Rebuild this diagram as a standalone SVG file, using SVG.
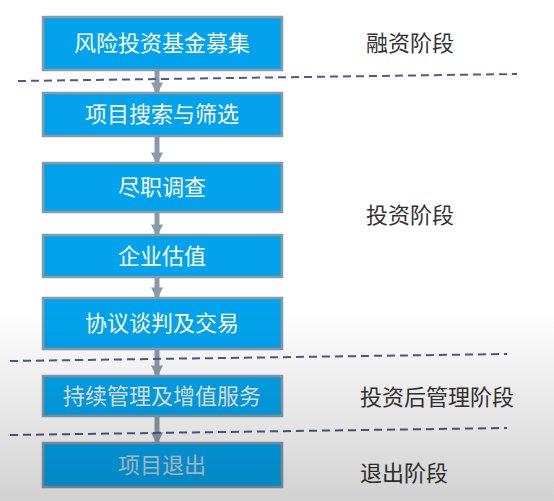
<svg xmlns="http://www.w3.org/2000/svg" width="554" height="501" viewBox="0 0 554 501">
<style>
.box{fill:#02a3ec;stroke:#8b9ba6;stroke-width:2.5}
.bt{font-family:"Noto Sans CJK SC","Noto Sans",sans-serif;font-size:22px;fill:#ffffff;text-anchor:middle}
.lab{font-family:"Noto Sans CJK SC","Noto Sans",sans-serif;font-size:22px;fill:#333333}
.con{stroke:#8b9ba6;stroke-width:5;fill:none}
.dash{stroke:#55568c;stroke-width:2;stroke-dasharray:8 5;fill:none}
</style>
<defs>
<marker id="ah" viewBox="0 0 10 10" refX="8" refY="5" markerWidth="2.4" markerHeight="2.4" orient="auto" markerUnits="strokeWidth">
<path d="M0,0 L10,5 L0,10 z" fill="#8b9ba6"/>
</marker>
<linearGradient id="shade" x1="0" y1="0" x2="0" y2="1">
<stop offset="0" stop-color="#000" stop-opacity="0"/>
<stop offset="0.62" stop-color="#000" stop-opacity="0"/>
<stop offset="0.75" stop-color="#000" stop-opacity="0.06"/>
<stop offset="1" stop-color="#000" stop-opacity="0.18"/>
</linearGradient>
</defs>
<rect width="554" height="501" fill="#ffffff"/>
<g id="connectors">
<line class="con" x1="157" y1="70" x2="157" y2="92" marker-end="url(#ah)"/>
<line class="con" x1="157" y1="136" x2="157" y2="162" marker-end="url(#ah)"/>
<line class="con" x1="157" y1="212" x2="157" y2="234" marker-end="url(#ah)"/>
<line class="con" x1="157" y1="277" x2="157" y2="297" marker-end="url(#ah)"/>
<line class="con" x1="157" y1="349" x2="157" y2="375" marker-end="url(#ah)"/>
<line class="con" x1="157" y1="416" x2="157" y2="442" marker-end="url(#ah)"/>
</g>
<g id="n1"><rect class="box" x="43" y="17" width="239" height="53"/><text class="bt" x="162" y="51">风险投资基金募集</text></g>
<g id="n2"><rect class="box" x="43" y="93" width="239" height="43"/><text class="bt" x="162" y="122">项目搜索与筛选</text></g>
<g id="n3"><rect class="box" x="43" y="163" width="239" height="49"/><text class="bt" x="162" y="195">尽职调查</text></g>
<g id="n4"><rect class="box" x="43" y="235" width="239" height="42"/><text class="bt" x="162" y="264">企业估值</text></g>
<g id="n5"><rect class="box" x="43" y="298" width="239" height="51"/><text class="bt" x="162" y="331">协议谈判及交易</text></g>
<g id="n6"><rect class="box" x="43" y="376" width="239" height="40"/><text class="bt" x="162" y="404" style="fill:#e6eef4">持续管理及增值服务</text></g>
<g id="n7"><rect class="box" x="43" y="443" width="239" height="44"/><text class="bt" x="162" y="473" style="fill:#c2d2de">项目退出</text></g>
<g id="dividers">
<line class="dash" x1="18" y1="81" x2="517" y2="74"/>
<line class="dash" x1="10" y1="361" x2="507" y2="354"/>
<line class="dash" x1="10" y1="435" x2="507" y2="428"/>
</g>
<g id="labels">
<text class="lab" x="366" y="51">融资阶段</text>
<text class="lab" x="366" y="223">投资阶段</text>
<text class="lab" x="360" y="405">投资后管理阶段</text>
<text class="lab" x="360" y="481">退出阶段</text>
</g>
<rect width="554" height="501" fill="url(#shade)"/>
</svg>
